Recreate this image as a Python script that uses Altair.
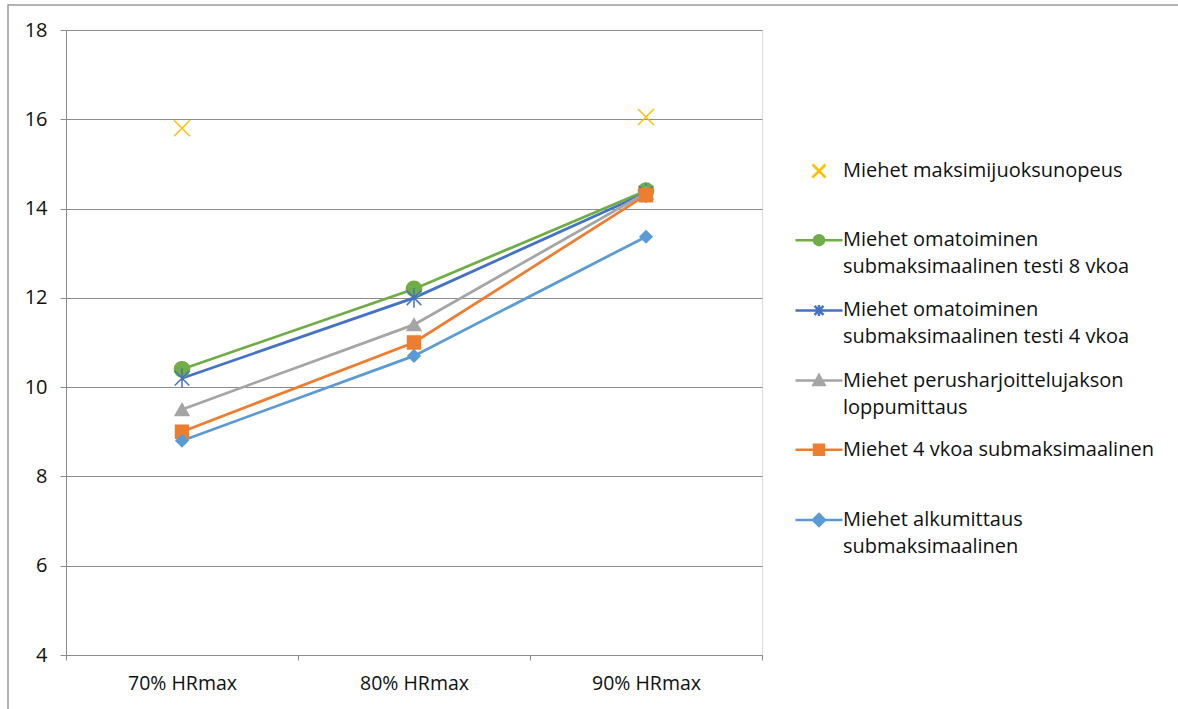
import altair as alt
import pandas as pd

# Heart-rate intensity levels on the x axis
categories = ["70% HRmax", "80% HRmax", "90% HRmax"]

# Series names, in legend order
series = [
    "Miehet maksimijuoksunopeus",
    "Miehet omatoiminen submaksimaalinen testi 8 vkoa",
    "Miehet omatoiminen submaksimaalinen testi 4 vkoa",
    "Miehet perusharjoittelujakson loppumittaus",
    "Miehet 4 vkoa submaksimaalinen",
    "Miehet alkumittaus submaksimaalinen",
]

# Running speed (km/h) per intensity level
max_speed = [15.8, None, 16.05]
self_test_8wk = [10.4, 12.2, 14.4]
self_test_4wk = [10.2, 12.0, 14.35]
basic_training_end = [9.5, 11.4, 14.35]
submax_4wk = [9.0, 11.0, 14.3]
baseline_submax = [8.8, 10.7, 13.37]

values = [max_speed, self_test_8wk, self_test_4wk, basic_training_end, submax_4wk, baseline_submax]

colors = ["#FFC000", "#70AD47", "#4472C4", "#A5A5A5", "#ED7D31", "#5B9BD5"]

# Legend labels broken over two lines
wrapped = {
    series[0]: ["Miehet maksimijuoksunopeus", ""],
    series[1]: ["Miehet omatoiminen", "submaksimaalinen testi 8 vkoa"],
    series[2]: ["Miehet omatoiminen", "submaksimaalinen testi 4 vkoa"],
    series[3]: ["Miehet perusharjoittelujakson", "loppumittaus"],
    series[4]: ["Miehet 4 vkoa submaksimaalinen", ""],
    series[5]: ["Miehet alkumittaus", "submaksimaalinen"],
}

rows = []
for s_idx, (name, vals) in enumerate(zip(series, values)):
    for c_idx, (cat, v) in enumerate(zip(categories, vals)):
        if v is not None:
            rows.append({"series": name, "level": cat, "speed": v, "order": s_idx})
df = pd.DataFrame(rows)

FONT = "Open Sans"
TEXT = "#111111"
GRID = "#8c8c8c"

x_enc = alt.X(
    "level:N",
    sort=categories,
    scale=alt.Scale(domain=categories, paddingInner=0, paddingOuter=0),
    axis=alt.Axis(
        title=None, labelAngle=0, grid=False, tickBand="extent",
        domainColor=GRID, tickColor=GRID, tickSize=5, labelPadding=14,
        labelFont=FONT, labelFontSize=19.5, labelColor=TEXT,
    ),
)
y_enc = alt.Y(
    "speed:Q",
    scale=alt.Scale(domain=[4, 18], nice=False, zero=False),
    axis=alt.Axis(
        title=None, values=list(range(4, 19, 2)), grid=True, gridColor=GRID,
        domainColor=GRID, tickColor=GRID, tickSize=6, labelPadding=13,
        labelFont=FONT, labelFontSize=20, labelColor=TEXT,
    ),
)

# Marker shapes drawn on the plot
marker_shapes = [
    "M-1,-1L1,1M-1,1L1,-1",
    "circle",
    "M-1,-1L1,1M-1,1L1,-1M0,-1.35V1.35",
    "triangle-up",
    "square",
    "diamond",
]
marker_sizes = [256, 144, 144, 196, 156, 196]

# Legend symbols: line segment with the series marker
legend_shapes = [
    "M-1.3,-1.3L1.3,1.3M-1.3,1.3L1.3,-1.3",
    "M-4.7,0H4.7M-1,0A1,1 0 1,0 1,0A1,1 0 1,0 -1,0Z",
    "M-4.7,0H4.7M-0.9,-0.9L0.9,0.9M-0.9,0.9L0.9,-0.9M0,-1.1V1.1",
    "M-4.7,0H4.7M0,-1.1L1.1,0.9H-1.1Z",
    "M-4.7,0H4.7M-1,-1H1V1H-1Z",
    "M-4.7,0H4.7M0,-1.2L1.2,0L0,1.2L-1.2,0Z",
]

label_map = "{" + ",".join(
    f"'{s}':[" + ",".join(f"'{t}'" for t in lines) + "]" for s, lines in wrapped.items()
) + "}"

legend = alt.Legend(
    title=None, orient="none", legendX=728, legendY=131, padding=0,
    symbolSize=100, symbolOffset=15, labelOffset=14, symbolStrokeWidth=2.5,
    labelFont=FONT, labelFontSize=20, labelColor=TEXT,
    labelLimit=500, rowPadding=22.2,
    labelExpr=f"{label_map}[datum.label]",
)

lines = (
    alt.Chart(df)
    .transform_filter(alt.datum.series != series[0])
    .mark_line(strokeWidth=2.75)
    .encode(
        x=x_enc,
        y=y_enc,
        color=alt.Color("series:N", scale=alt.Scale(domain=series, range=colors), legend=None),
        order=alt.Order("order:Q"),
    )
)

points = (
    alt.Chart(df)
    .mark_point(filled=True, opacity=1, strokeWidth=1.5)
    .encode(
        x=x_enc,
        y=y_enc,
        color=alt.Color("series:N", scale=alt.Scale(domain=series, range=colors), legend=None),
        stroke=alt.Stroke("series:N", scale=alt.Scale(domain=series, range=colors), legend=None),
        shape=alt.Shape("series:N", scale=alt.Scale(domain=series, range=marker_shapes), legend=None),
        size=alt.Size("series:N", scale=alt.Scale(domain=series, range=marker_sizes), legend=None),
        order=alt.Order("order:Q"),
    )
)

# Zero-size layer whose only job is to carry the legend
legend_layer = (
    alt.Chart(df)
    .mark_point(filled=True, opacity=1, size=0)
    .encode(
        x=x_enc,
        y=y_enc,
        color=alt.Color("series:N", scale=alt.Scale(domain=series, range=colors), legend=legend),
        stroke=alt.Stroke("series:N", scale=alt.Scale(domain=series, range=colors), legend=legend),
        shape=alt.Shape("series:N", scale=alt.Scale(domain=series, range=legend_shapes), legend=legend),
    )
)

frame = (
    alt.Chart(alt.Data(values=[{}]))
    .mark_rect(fill=None, stroke="#9a9a9a", strokeWidth=1.5, clip=False)
    .encode(x=alt.value(-58), y=alt.value(-25), x2=alt.value(1140), y2=alt.value(700))
)

chart = (
    alt.layer(frame, lines, points, legend_layer)
    .resolve_scale(color="independent", shape="independent",
                   stroke="independent", size="independent")
    .properties(
        width=696,
        height=625,
        autosize=alt.AutoSizeParams(type="none"),
        padding={"left": 66, "top": 30, "right": 416, "bottom": 54},
        background="white",
    )
    .configure_view(stroke=None)
    .configure(style={"guide-label": {"lineHeight": 27}})
)

chart.save("out.html", embed_options={"renderer": "svg", "actions": False})
